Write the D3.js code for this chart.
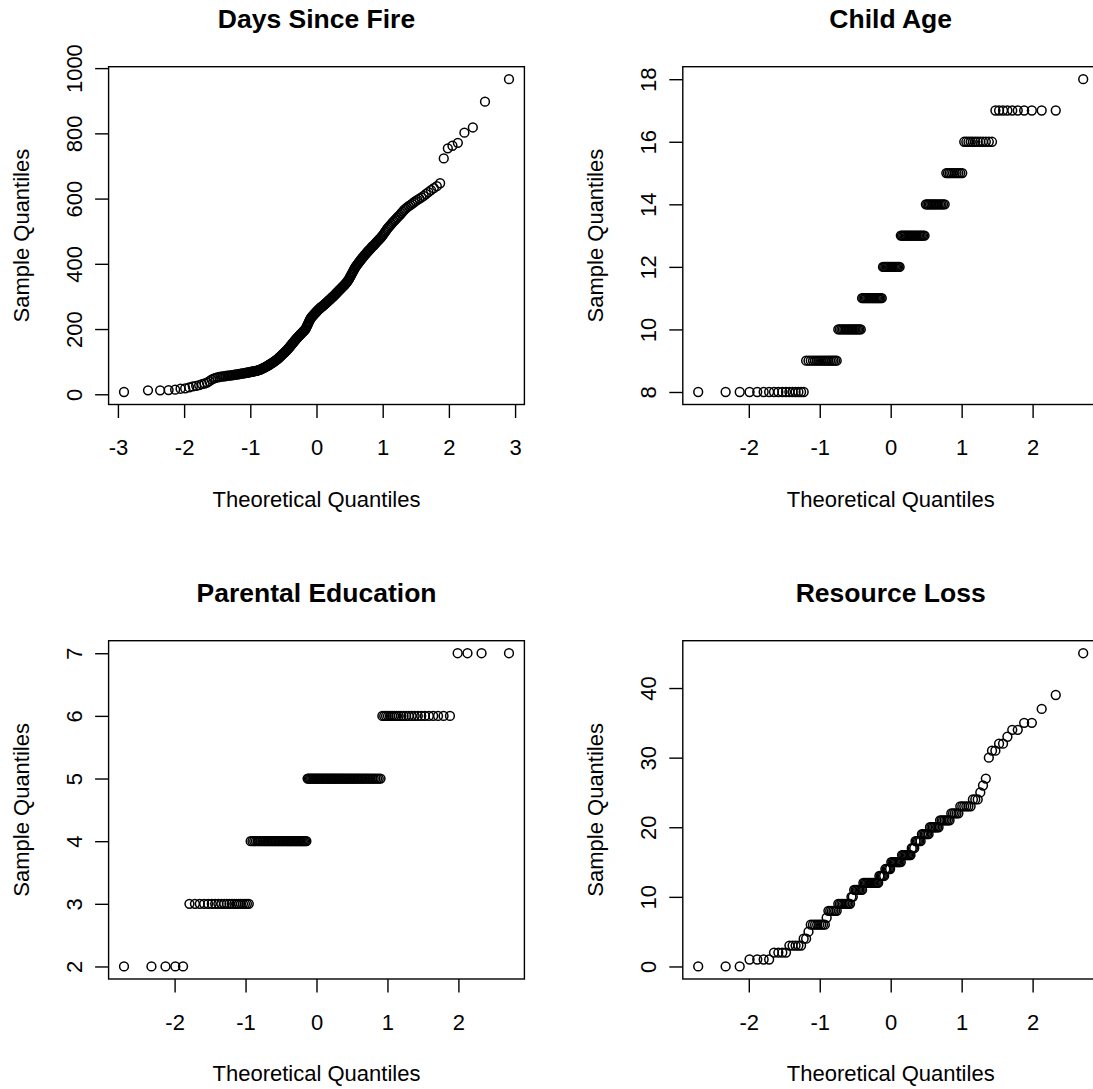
<!DOCTYPE html>
<html><head><meta charset="utf-8">
<script src="https://cdn.jsdelivr.net/npm/d3@7"></script>
<style>body{margin:0;background:#fff} svg{display:block}</style>
</head><body><svg id="c" width="1093" height="1089"></svg>
<script>
const titles = ["Days Since Fire", "Child Age", "Parental Education", "Resource Loss"];
const xLabel = "Theoretical Quantiles";
const yLabel = "Sample Quantiles";

// Days Since Fire: sorted sample (n = 275)
const daysSinceFire = [
 7,12,12,13,14,17,18,21,24,26,28,31,33,36,40,45,48,50,52,53,54,55,55,56,57,
 57,58,58,59,60, 60,61,61,62,63, 63,64,64,65,66, 66,67,67,68,69, 69,70,70,71,72,
 72,73,74,75,76, 77,78,80,81,82, 84,85,86,88,89, 91,92,94,95,97, 98,100,101,103,105,
 106,108,110,112,114, 116,118,120,122,124, 126,128,130,132,134, 136,139,141,143,146,
 148,151,153,156,158, 160,163,165,167,170, 172,174,176,178,180, 182,184,186,188,190,
 192,194,196,198,200, 204,208,212,216,220, 224,228,231,234,237, 239,241,243,245,247,
 249,251,253,255,257, 259,261,262,264,266, 267,269,270,272,273, 275,277,278,280,282,
 283,285,287,289,290, 292,294,296,298,299, 301,303,305,307,309, 311,313,315,317,319,
 321,323,325,327,329, 331,333,335,337,340, 342,345,348,351,354, 358,362,366,370,374,
 378,382,386,390,393, 396,399,402,405,408, 411,414,417,420,423, 426,428,431,434,437,
 440,442,445,448,451, 454,456,459,462,465, 468,471,474,477,480, 484,488,492,497,501,
 506,510,514,518,522, 526,530,534,538,542, 546,550,555,560,565, 569,573,577,580,584,
 588,592,596,600,604, 608,614,620,626,632,
 638,647,723,754,762,771,802,818,897,966
];

// Child Age: value levels and how many children at each
const childAgeLevels = [8, 9, 10, 11, 12, 13, 14, 15, 16, 17, 18];
const childAgeCounts = [17, 17, 17, 17, 15, 20, 14, 10, 12, 10, 1];

// Parental Education: levels and counts
const parentEduLevels = [2, 3, 4, 5, 6, 7];
const parentEduCounts = [5, 21, 41, 56, 23, 4];

// Resource Loss: levels and counts
const resourceLossLevels = [0,1,2,3,4,5,6,7,8,9,10,11,12,13,14,15,16,17,18,19,20,21,22,23,24,25,26,27,30,31,32,33,34,35,37,39,45];
const resourceLossCounts = [3,4,4,5,2,1,8,1,6,9,2,7,13,5,5,9,8,3,5,6,7,7,5,6,3,1,1,1,1,2,2,1,2,2,1,1,1];

// Tick values
const xTicksWide = [-3, -2, -1, 0, 1, 2, 3];
const xTicksNarrow = [-2, -1, 0, 1, 2];
const yTicksDays = [0, 200, 400, 600, 800, 1000];
const yTicksAge = [8, 10, 12, 14, 16, 18];
const yTicksEdu = [2, 3, 4, 5, 6, 7];
const yTicksLoss = [0, 10, 20, 30, 40];

function expand(levels, counts) {
  const out = [];
  levels.forEach((v, i) => { for (let k = 0; k < counts[i]; k++) out.push(v); });
  return out;
}

// inverse standard normal CDF (Acklam)
function qnorm(p) {
  const a=[-3.969683028665376e+01,2.209460984245205e+02,-2.759285104469687e+02,1.383577518672690e+02,-3.066479806614716e+01,2.506628277459239e+00];
  const b=[-5.447609879822406e+01,1.615858368580409e+02,-1.556989798598866e+02,6.680131188771972e+01,-1.328068155288572e+01];
  const c=[-7.784894002430293e-03,-3.223964580411365e-01,-2.400758277161838e+00,-2.549732539343734e+00,4.374664141464968e+00,2.938163982698783e+00];
  const d=[7.784695709041462e-03,3.224671290700398e-01,2.445134137142996e+00,3.754408661907416e+00];
  const pl = 0.02425, ph = 1 - pl;
  let q, r;
  if (p < pl) { q = Math.sqrt(-2*Math.log(p)); return (((((c[0]*q+c[1])*q+c[2])*q+c[3])*q+c[4])*q+c[5])/((((d[0]*q+d[1])*q+d[2])*q+d[3])*q+1); }
  if (p <= ph) { q = p - 0.5; r = q*q; return (((((a[0]*r+a[1])*r+a[2])*r+a[3])*r+a[4])*r+a[5])*q/(((((b[0]*r+b[1])*r+b[2])*r+b[3])*r+b[4])*r+1); }
  q = Math.sqrt(-2*Math.log(1-p)); return -(((((c[0]*q+c[1])*q+c[2])*q+c[3])*q+c[4])*q+c[5])/((((d[0]*q+d[1])*q+d[2])*q+d[3])*q+1);
}

const FONT = '"Liberation Sans", Arial, Helvetica, sans-serif';
const svg = d3.select("#c");
svg.append("rect").attr("width",1093).attr("height",1089).attr("fill","#fff");

const panels = [
  { title: titles[0], sample: daysSinceFire, xt: xTicksWide, yt: yTicksDays, box: {l:108.6, r:524.4, t:66.7, b:404.5} },
  { title: titles[1], sample: expand(childAgeLevels, childAgeCounts), xt: xTicksNarrow, yt: yTicksAge, box: {l:682.8, r:1098.6, t:66.7, b:404.5} },
  { title: titles[2], sample: expand(parentEduLevels, parentEduCounts), xt: xTicksNarrow, yt: yTicksEdu, box: {l:108.6, r:524.4, t:640.7, b:979} },
  { title: titles[3], sample: expand(resourceLossLevels, resourceLossCounts), xt: xTicksNarrow, yt: yTicksLoss, box: {l:682.8, r:1098.6, t:640.7, b:979} }
];

panels.forEach(P => {
  const s = P.sample.slice().sort((a, b) => a - b);
  const n = s.length;
  const pts = s.map((v, i) => ({ x: qnorm((i + 1 - 0.5) / n), y: v }));
  const xmax = d3.max(pts, d => Math.abs(d.x));
  const [ymin, ymax] = d3.extent(s);
  const yr = ymax - ymin;
  const B = P.box;
  const x = d3.scaleLinear().domain([-xmax * 1.08, xmax * 1.08]).range([B.l, B.r]);
  const y = d3.scaleLinear().domain([ymin - 0.04 * yr, ymax + 0.04 * yr]).range([B.b, B.t]);
  const g = svg.append("g");

  // points
  g.append("g").selectAll("circle").data(pts).join("circle")
    .attr("cx", d => x(d.x)).attr("cy", d => y(d.y)).attr("r", 4.4)
    .attr("fill", "none").attr("stroke", "#000").attr("stroke-width", 1.5);

  // box
  g.append("rect").attr("x", B.l).attr("y", B.t).attr("width", B.r - B.l).attr("height", B.b - B.t)
    .attr("fill", "none").attr("stroke", "#000").attr("stroke-width", 1.4);

  // x axis
  const gx = g.append("g").attr("transform", `translate(0,${B.b})`)
    .call(d3.axisBottom(x).tickValues(P.xt).tickSize(13.5).tickFormat(d => String(d)));
  gx.attr("font-family", FONT).attr("font-size", 22);
  gx.select(".domain").remove();
  gx.selectAll(".tick line").attr("stroke", "#000").attr("stroke-width", 1.4);
  gx.selectAll(".tick text").attr("y", 50.5).attr("dy", null).attr("fill", "#000");

  // y axis
  const gy = g.append("g").attr("transform", `translate(${B.l},0)`)
    .call(d3.axisLeft(y).tickValues(P.yt).tickSize(13.5).tickFormat(d => String(d)));
  gy.attr("font-family", FONT).attr("font-size", 22);
  gy.select(".domain").remove();
  gy.selectAll(".tick line").attr("stroke", "#000").attr("stroke-width", 1.4);
  gy.selectAll(".tick text").attr("x", null).attr("dy", null).attr("text-anchor", "middle")
    .attr("fill", "#000").attr("transform", "translate(-27,0) rotate(-90)");

  const cx = (B.l + B.r) / 2, cy = (B.t + B.b) / 2;
  // title
  g.append("text").attr("x", cx).attr("y", B.t - 39).attr("text-anchor", "middle")
    .attr("font-family", FONT).attr("font-weight", "bold").attr("font-size", 26.5).text(P.title);
  // x label
  g.append("text").attr("x", cx).attr("y", B.b + 102).attr("text-anchor", "middle")
    .attr("font-family", FONT).attr("font-size", 22).text(xLabel);
  // y label
  g.append("text").attr("transform", `translate(${B.l - 79.5},${cy}) rotate(-90)`).attr("text-anchor", "middle")
    .attr("font-family", FONT).attr("font-size", 22).text(yLabel);
});
</script>
</body></html>
